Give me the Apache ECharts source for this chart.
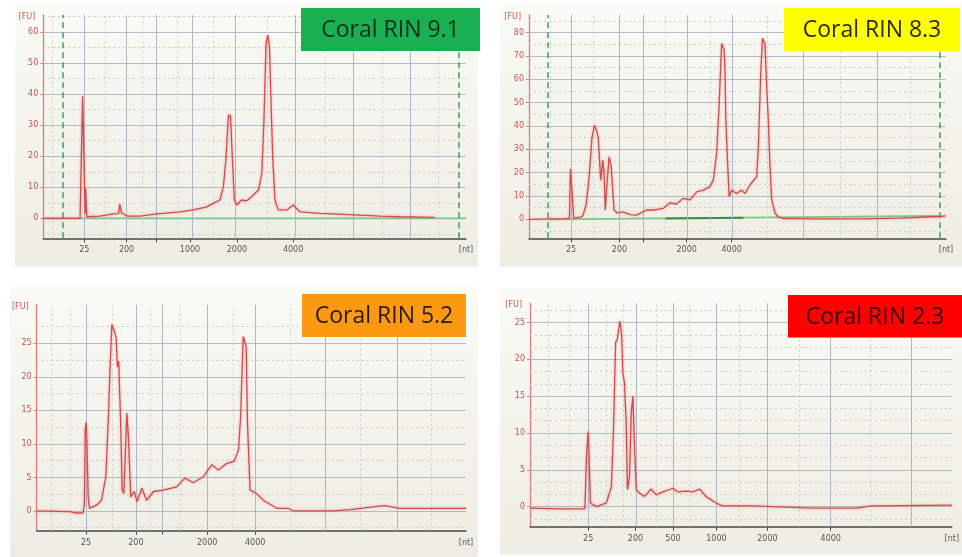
<!DOCTYPE html>
<html><head><meta charset="utf-8">
<script src="https://cdn.jsdelivr.net/npm/echarts@6/dist/echarts.min.js"></script>
<style>html,body{margin:0;padding:0;background:#fff}#c{width:962px;height:557px}</style>
</head><body><div id="c"></div>
<script>
// ---------- DATA ----------
const titles = ['Coral RIN 9.1', 'Coral RIN 8.3', 'Coral RIN 5.2', 'Coral RIN 2.3'];

// x = migration position (% of plotted window), y = fluorescence [FU]
const trace1 = [[0,0],[8.7,0],[9.1,0],[9.3,39.3],[9.6,39.3],[9.9,1.5],[10.0,9.7],[10.3,0.5],[10.6,0.5],[13.4,0.7],[16.6,1.4],[17.8,1.5],[18.1,4.6],[18.5,1.7],[19.9,0.7],[22.9,0.7],[26.8,1.4],[32.3,2.1],[35.5,2.7],[38.7,3.7],[40.2,4.8],[41.8,5.9],[42.6,10.2],[43.2,18.8],[43.8,33.3],[44.3,33],[44.6,23],[44.9,14.5],[45.2,5.9],[45.8,4.3],[46.9,5.9],[48.1,5.6],[49.7,7.5],[50.9,9.1],[51.7,14.5],[52.2,31.7],[52.7,56.4],[53.1,59],[53.5,55.3],[53.9,36],[54.3,18.8],[54.8,5.9],[55.6,2.7],[57.6,2.7],[59.1,4.3],[60.7,2.1],[63.1,1.8],[65.5,1.6],[67.0,1.5],[74.9,1.0],[79.7,0.7],[84.4,0.5],[92.6,0.3]];
const trace2 = [[0,0],[8.9,0.3],[9.7,0.5],[9.95,21.5],[10.2,21],[10.4,10],[10.7,0.5],[12.2,0.8],[12.9,1.5],[13.7,6],[14.4,18],[15.1,35],[15.7,40.3],[16.2,38],[16.6,35],[17.2,16.8],[17.7,25.3],[18,20],[18.3,4],[18.7,15],[19.2,26.8],[19.7,23],[20.4,4],[21.2,2.7],[22.5,3.2],[24.2,2],[25.8,1.8],[28.2,4],[30.2,4],[32.2,4.7],[33.8,7.1],[35.3,6.5],[37,9],[38.6,8.3],[40.2,11.8],[41.8,12.5],[43.4,14],[44.2,16.8],[45.0,28.3],[45.6,49.7],[46.2,75.4],[46.8,72.6],[47.0,64],[47.2,42.6],[47.6,25.4],[48.0,9.7],[48.6,12.5],[49.8,11.1],[51.0,12.5],[51.8,11.1],[53.0,14.7],[54.6,18.3],[55.0,31.1],[55.6,64],[56.0,77.6],[56.6,75.2],[57.0,56.8],[57.4,42.6],[57.8,22.5],[58.2,8.3],[59.0,2.6],[59.8,1],[61.0,0.3],[62.6,0.3],[69.8,0.2],[79.4,0.2],[89,0.5],[98.6,1.2],[100,1.5]];
const trace3 = [[0,0],[7.8,-0.1],[8.9,-0.3],[10.8,-0.3],[11.1,1],[11.3,12],[11.5,13.2],[11.7,10],[12.0,2],[12.3,0.4],[14.0,0.9],[15.1,1.6],[16.1,5.1],[16.7,14],[17.1,21.5],[17.5,27.8],[18.0,27],[18.5,25.8],[18.8,21.5],[19.1,22.3],[19.6,12.1],[19.9,3.1],[20.3,2.6],[21.0,14.6],[21.4,10.6],[21.9,2.1],[22.7,2.9],[23.4,1.4],[24.5,3.4],[25.6,1.6],[27.2,2.9],[29.5,3.1],[32.6,3.6],[34.5,4.9],[36.5,4.2],[38.8,5.1],[40.8,6.9],[42.3,6.1],[44.3,7.1],[46.0,7.4],[47.0,9.1],[47.5,14],[48.1,26],[48.8,24.5],[49.1,13.1],[49.7,3.1],[51.2,2.6],[52.8,1.6],[55.9,0.4],[58.6,0.4],[59.8,0],[69.0,0],[73.0,0.2],[79.3,0.7],[81.1,0.8],[84.6,0.4],[100,0.4]];
const trace4 = [[0,-0.2],[7.1,-0.3],[13.0,-0.3],[13.4,6.8],[13.8,10.2],[14.1,5],[14.3,0.5],[15.8,0],[18.1,0.5],[19.3,2.7],[19.8,10.5],[20.3,22.3],[20.7,22.7],[21.3,25.2],[21.7,23.6],[22.0,18.2],[22.4,16.8],[22.8,11.4],[23.1,2.3],[23.6,4.1],[24.0,12.7],[24.4,15],[24.8,7.7],[25.2,2.3],[26.0,1.8],[27.2,1.4],[28.7,2.4],[29.9,1.6],[31.5,2.0],[33.9,2.5],[35.0,2.0],[37.0,2.1],[38.6,2.0],[40.2,2.4],[41.7,1.4],[44.1,0.5],[45.7,0.1],[52.8,0.1],[57.5,0],[66.9,-0.2],[77.3,-0.2],[81.0,0.1],[100,0.2]];

// green baseline (panels 1, 2)
const baseline1 = [[0,0],[100,0]];
const baseline2 = [[4.5,0],[98.4,1.5]];
const baseline2dark = [[32.6,0.4],[51.4,0.7]];

// x tick positions & labels (nt)
const xTickPos1 = [9.7,19.7,26.7,34.7,45.8,59.1,100];
const xTickLab1 = ['25','200','','1000','2000','4000','[nt]'];
const xTickPos2 = [10.1,21.7,27.3,37.8,48.6,100];
const xTickLab2 = ['25','200','','2000','4000','[nt]'];
const xTickPos3 = [11.5,23.1,29.3,39.7,50.9,100];
const xTickLab3 = ['25','200','','2000','4000','[nt]'];
const xTickPos4 = [13.8,25.0,33.9,44.2,56.3,71.3,100];
const xTickLab4 = ['25','200','500','1000','2000','4000','[nt]'];

// y tick labels (FU)
const yTicks1 = [0,10,20,30,40,50,60];
const yTicks2 = [0,10,20,30,40,50,60,70,80];
const yTicks3 = [0,5,10,15,20,25];
const yTicks4 = [0,5,10,15,20,25];

// ---------- LAYOUT ----------
const layouts = [
  {grid:{left:43.3,top:15,width:422.7,height:223.3}, ymin:-6.44, ymax:65.5,
   bg:[15,4,463,263], box:[301,8,179,43], boxColor:'#1aaf50', textColor:'#13301c',
   vSolid:[9.7,19.7,26.7,35.3,45.4,59.5,73.3,86.8], vDot:[2,14.6,23.3,31.6,40.2,52.9,66.7,80.1,93.5],
   hSolid:[10,20,30,40,50,60], hDot:[-5,5,15,25,35,45,55,65], dashes:[4.6,98.3]},
  {grid:{left:529,top:15,width:417,height:223.3}, ymin:-8.14, ymax:87.6,
   bg:[500,4,462,263], box:[784,8,176,43.5], boxColor:'#ffff00', textColor:'#2b2b08',
   vSolid:[10.1,21.6,27.3,37.9,48.7,65.7,83.5], vDot:[5,15.3,32.6,43.4,57.1,74.6,91.4],
   hSolid:[10,20,30,40,50,60,70,80], hDot:[-5,5,15,25,35,45,55,65,75,85], dashes:[4.5,98.4]},
  {grid:{left:36.7,top:305,width:429.3,height:225.7}, ymin:-2.94, ymax:30.7,
   bg:[10,287,468,270], box:[302,294,164,43], boxColor:'#fb9a12', textColor:'#2a1a05',
   vSolid:[11.5,23.1,29.3,39.7,50.9,67.2,83.9], vDot:[3.5,7.8,17.5,26.4,33.4,45.8,59.0,75.3,92.0],
   hSolid:[0,5,10,15,20,25], hDot:[-2.5,2.5,7.5,12.5,17.5,22.5,27.5], dashes:[]},
  {grid:{left:530,top:303.3,width:423.3,height:223.4}, ymin:-2.72, ymax:27.6,
   bg:[500,288,462,267], box:[788,295,174,42.5], boxColor:'#ff0000', textColor:'#3a0505',
   vSolid:[13.8,25.3,33.9,44.1,56.3,71.3,90.5], vDot:[4.3,9.4,18.1,22.0,29.9,37.8,49.6,63.8,80.7],
   hSolid:[0,5,10,15,20,25], hDot:[-1.67,1.67,3.33,6.67,8.33,11.67,13.33,16.67,18.33,21.67,23.33,26.67], dashes:[]}
];

const traces = [trace1, trace2, trace3, trace4];
const xPos = [xTickPos1, xTickPos2, xTickPos3, xTickPos4];
const xLab = [xTickLab1, xTickLab2, xTickLab3, xTickLab4];
const yT = [yTicks1, yTicks2, yTicks3, yTicks4];

const RED = '#d24b4b';
const option = {animation:false, backgroundColor:'#ffffff', grid:[], xAxis:[], yAxis:[], series:[], graphic:[]};

layouts.forEach((L, i) => {
  option.grid.push(Object.assign({containLabel:false, show:false}, L.grid));
  const pos = xPos[i], lab = xLab[i];
  option.xAxis.push({
    type:'value', gridIndex:i, min:0, max:100,
    axisLine:{show:true, onZero:false, lineStyle:{color:'#4a4a4a', width:1.5}},
    axisTick:{show:true, customValues:pos.filter(v => v < 100), length:4, lineStyle:{color:'#4a4a4a'}},
    axisLabel:{customValues:pos, color:'#555', fontSize:8, fontFamily:'DejaVu Sans', margin:8,
      formatter:(v) => { const k = pos.findIndex(p => Math.abs(p - v) < 1e-6); return k >= 0 ? lab[k] : ''; }},
    splitLine:{show:false}
  });
  option.yAxis.push({
    type:'value', gridIndex:i, min:L.ymin, max:L.ymax,
    name:'[FU]', nameLocation:'end', nameGap:-2,
    nameTextStyle:{color:'#cc5555', fontSize:8, fontFamily:'DejaVu Sans', align:'right', verticalAlign:'middle', padding:[0,8,0,0]},
    axisLine:{show:true, lineStyle:{color:'#e07a7a', width:1.3}},
    axisTick:{show:true, customValues:yT[i], length:3, lineStyle:{color:'#e07a7a'}},
    axisLabel:{customValues:yT[i], color:'#cc5050', fontSize:8, fontFamily:'DejaVu Sans', margin:5},
    splitLine:{show:false}
  });
  const md = [];
  L.vDot.forEach(v => md.push({xAxis:v, lineStyle:{type:[2,3], color:'#c9c9c9', width:1}}));
  L.hDot.forEach(v => md.push({yAxis:v, lineStyle:{type:[2,3], color:'#c9c9c9', width:1}}));
  L.vSolid.forEach(v => md.push({xAxis:v, lineStyle:{type:'solid', color:'#aeb6c8', width:1}}));
  L.hSolid.forEach(v => md.push({yAxis:v, lineStyle:{type:'solid', color:'#b4bbcb', width:1}}));
  L.dashes.forEach(v => md.push({xAxis:v, lineStyle:{type:[6,4], color:'#3f9f55', width:1.5}}));
  option.series.push({
    type:'line', xAxisIndex:i, yAxisIndex:i, data:[[0,0]], showSymbol:false, symbol:'none',
    lineStyle:{width:0, opacity:0}, z:1, silent:true,
    markLine:{silent:true, symbol:['none','none'], label:{show:false}, animation:false, data:md}
  });
  if (i === 0 || i === 1) {
    option.series.push({type:'line', xAxisIndex:i, yAxisIndex:i, data: i === 0 ? baseline1 : baseline2,
      showSymbol:false, symbol:'none', lineStyle:{color:'#78c985', width:1.8}, z:3, silent:true});
  }
  if (i === 1) {
    option.series.push({type:'line', xAxisIndex:i, yAxisIndex:i, data:baseline2dark,
      showSymbol:false, symbol:'none', lineStyle:{color:'#3d8a4c', width:2}, z:3, silent:true});
  }
  option.series.push({
    type:'line', xAxisIndex:i, yAxisIndex:i, data:traces[i], showSymbol:false, symbol:'none',
    lineStyle:{color:RED, width:1.3, shadowColor:'rgba(235,130,130,0.7)', shadowBlur:3}, z:5, silent:true
  });
  // panel background
  option.graphic.push({type:'rect', z:-10, silent:true,
    shape:{x:L.bg[0], y:L.bg[1], width:L.bg[2], height:L.bg[3]},
    style:{fill:new echarts.graphic.LinearGradient(0,0,0,1,[{offset:0,color:'#fafaf6'},{offset:1,color:'#ededE3'}])}});
  // title box
  option.graphic.push({type:'rect', z:100, silent:true,
    shape:{x:L.box[0], y:L.box[1], width:L.box[2], height:L.box[3]}, style:{fill:L.boxColor}});
  option.graphic.push({type:'text', z:101, silent:true,
    x:L.box[0] + L.box[2] / 2, y:L.box[1] + L.box[3] / 2 + 1,
    style:{text:titles[i], font:'23px "Open Sans"', fill:L.textColor,
      align:'center', verticalAlign:'middle', textAlign:'center', textVerticalAlign:'middle'}});
});

const chart = echarts.init(document.getElementById('c'), null, {renderer:'canvas'});
chart.setOption(option);
</script></body></html>
